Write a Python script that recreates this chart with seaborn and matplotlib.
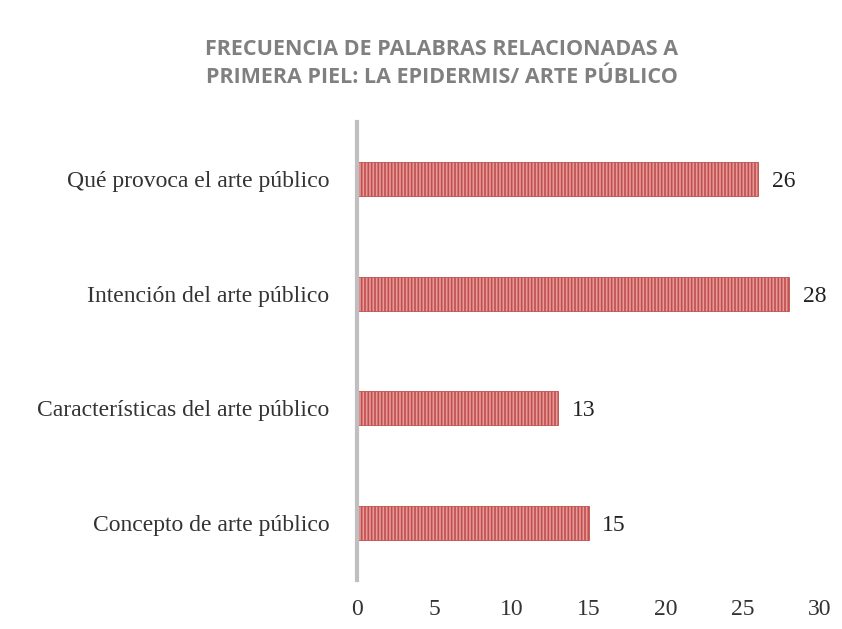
import matplotlib
matplotlib.use('Agg')
import matplotlib.pyplot as plt
import seaborn as sns
import pandas as pd

categorias = ['Qué provoca el arte público', 'Intención del arte público',
              'Características del arte público', 'Concepto de arte público']
frecuencias = [26, 28, 13, 15]
ticks_x = [0, 5, 10, 15, 20, 25, 30]
titulo = 'FRECUENCIA DE PALABRAS RELACIONADAS A\nPRIMERA PIEL: LA EPIDERMIS/ ARTE PÚBLICO'

df = pd.DataFrame({'categoria': categorias, 'frecuencia': frecuencias})

sns.set_style('white')
plt.rcParams['hatch.color'] = '#c0504d'
plt.rcParams['hatch.linewidth'] = 1.2

fig = plt.figure(figsize=(8.42, 6.29), dpi=100)
ax = fig.add_axes([357 / 842, 1 - 580 / 629, (820 - 357) / 842, (580 - 122) / 629])

sns.barplot(data=df, x='frecuencia', y='categoria', orient='h', ax=ax,
            color='#e89a9a', width=0.3, saturation=1)
for p in ax.patches:
    p.set_hatch('|||||')
    p.set_edgecolor('#c0504d')
    p.set_linewidth(0.6)

for i, v in enumerate(frecuencias):
    ax.text(v + 0.9, i, str(v), va='center_baseline', ha='left',
            family='Liberation Serif', fontsize=17, color='#222222')

ax.set_xlim(0, 30)
ax.set_ylim(3.5, -0.5)
ax.set_xticks(ticks_x)
ax.set_xlabel('')
ax.set_ylabel('')
ax.tick_params(axis='both', length=0)
ax.tick_params(axis='x', pad=14)
ax.tick_params(axis='y', pad=20)
for lab in ax.get_xticklabels() + ax.get_yticklabels():
    lab.set_family('Liberation Serif')
    lab.set_fontsize(17)
    lab.set_color('#333333')

for s in ['top', 'right', 'bottom']:
    ax.spines[s].set_visible(False)
ax.spines['left'].set_color('#bfbfbf')
ax.spines['left'].set_linewidth(3)

fig.text(0.525, 0.899, titulo, ha='center', va='center', family='Open Sans',
         fontweight='bold', fontsize=15.5, color='#808080', linespacing=1.45)

fig.savefig('out.png', dpi=100)
